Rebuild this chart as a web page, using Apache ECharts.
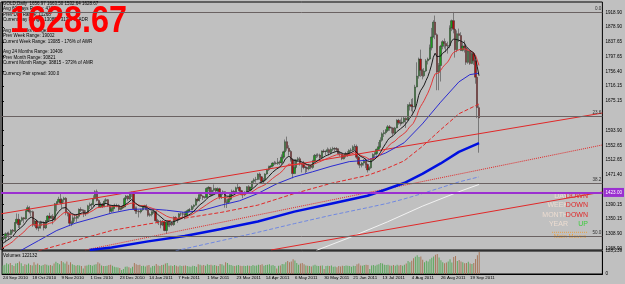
<!DOCTYPE html>
<html>
<head>
<meta charset="utf-8">
<script src="https://cdn.jsdelivr.net/npm/echarts@6/dist/echarts.min.js"></script>
<style>
  html, body { margin: 0; padding: 0; background: #c0c0c0; }
  #chart { width: 625px; height: 284px; }
</style>
</head>
<body>
<div id="chart"></div>
<script>
// daily bars 24 Sep 2010 .. 26 Sep 2011, [open, close, low, high]
var ohlc = [
  // Sep 2010
  [1292,1296,1289,1301],[1296,1297,1291,1301],[1297,1309,1285,1313],[1309,1309,1303,1314],[1309,1307,1295,1315],
  // Oct
  [1307,1319,1305,1321],[1319,1316,1310,1322],[1316,1340,1314,1341],[1340,1349,1336,1365],[1349,1334,1325,1364],
  [1334,1346,1322,1349],[1346,1353,1342,1356],[1353,1350,1338,1355],[1350,1372,1348,1374],[1372,1381,1370,1387],
  [1381,1369,1365,1385],[1369,1370,1357,1375],[1370,1333,1328,1373],[1333,1344,1329,1347],[1344,1325,1320,1348],
  [1325,1325,1316,1330],[1325,1339,1323,1345],[1339,1340,1330,1343],[1340,1325,1318,1343],[1325,1345,1322,1347],
  [1345,1358,1340,1360],
  // Nov
  [1358,1352,1346,1367],[1352,1357,1350,1360],[1357,1347,1335,1363],[1347,1392,1345,1394],[1392,1397,1371,1399],
  [1397,1404,1395,1411],[1404,1394,1390,1424],[1394,1403,1380,1407],[1403,1407,1395,1411],[1407,1367,1360,1410],
  [1367,1365,1357,1371],[1365,1338,1330,1368],[1338,1339,1330,1345],[1339,1353,1336,1360],[1353,1352,1343,1361],
  [1352,1357,1342,1361],[1357,1376,1351,1379],[1376,1374,1369,1382],[1374,1374,1370,1377],[1374,1364,1355,1376],
  [1364,1366,1358,1374],[1366,1386,1363,1389],
  // Dec
  [1386,1389,1377,1395],[1389,1390,1380,1394],[1390,1406,1384,1415],[1406,1425,1404,1429],[1425,1401,1398,1431],
  [1401,1384,1380,1404],[1384,1391,1380,1396],[1391,1384,1380,1394],[1384,1399,1382,1404],[1399,1403,1391,1407],
  [1403,1386,1383,1405],[1386,1371,1364,1389],[1371,1378,1367,1384],[1378,1387,1370,1389],[1387,1387,1381,1392],
  [1387,1387,1382,1392],[1387,1376,1371,1390],[1376,1380,1374,1382],[1380,1383,1377,1388],[1383,1406,1382,1410],
  [1406,1413,1402,1416],[1413,1405,1400,1415],[1405,1421,1403,1424],
  // Jan 2011
  [1421,1422,1410,1425],[1422,1378,1375,1424],[1378,1372,1364,1384],[1372,1371,1364,1384],[1371,1369,1354,1375],
  [1369,1375,1365,1378],[1375,1385,1372,1387],[1385,1386,1380,1389],[1386,1375,1373,1390],[1375,1360,1356,1378],
  [1360,1362,1356,1367],[1362,1369,1357,1372],[1369,1370,1364,1376],[1370,1345,1343,1372],[1345,1342,1337,1350],
  [1342,1343,1333,1347],[1343,1333,1324,1347],[1333,1342,1330,1347],[1342,1318,1316,1344],[1318,1341,1309,1344],
  [1341,1333,1328,1345],
  // Feb
  [1333,1339,1327,1343],[1339,1334,1330,1343],[1334,1354,1331,1357],[1354,1349,1343,1357],[1349,1348,1339,1352],
  [1348,1364,1346,1366],[1364,1364,1358,1368],[1364,1363,1355,1369],[1363,1360,1349,1371],[1360,1371,1357,1374],
  [1371,1375,1367,1377],[1375,1375,1370,1380],[1375,1384,1374,1388],[1384,1388,1378,1390],[1388,1404,1387,1408],
  [1404,1401,1396,1409],[1401,1417,1398,1418],[1417,1413,1405,1419],[1413,1409,1402,1415],[1409,1410,1406,1413],
  // Mar
  [1410,1434,1408,1437],[1434,1437,1426,1440],[1437,1416,1413,1438],[1416,1429,1413,1437],[1429,1434,1425,1445],
  [1434,1427,1421,1436],[1427,1433,1425,1437],[1433,1411,1404,1436],[1411,1420,1405,1424],[1420,1425,1416,1429],
  [1425,1395,1381,1426],[1395,1396,1380,1404],[1396,1404,1393,1408],[1404,1418,1401,1419],[1418,1426,1415,1431],
  [1426,1424,1420,1430],[1424,1436,1421,1439],[1436,1437,1432,1447],[1437,1428,1423,1440],[1428,1417,1415,1430],
  [1417,1417,1407,1421],[1417,1424,1413,1426],[1424,1439,1421,1440],
  // Apr
  [1439,1429,1420,1443],[1429,1437,1426,1439],[1437,1454,1433,1456],[1454,1458,1449,1462],[1458,1459,1450,1466],
  [1459,1474,1457,1476],[1474,1466,1458,1478],[1466,1453,1448,1468],[1453,1457,1449,1463],[1457,1474,1454,1476],
  [1474,1486,1472,1488],[1486,1493,1482,1497],[1493,1496,1488,1498],[1496,1504,1492,1506],[1504,1504,1499,1510],
  [1504,1503,1500,1508],[1503,1507,1499,1518],[1507,1505,1499,1511],[1505,1520,1500,1528],[1520,1535,1515,1538],
  [1535,1563,1533,1569],
  // May
  [1563,1545,1538,1577],[1545,1536,1525,1553],[1536,1513,1508,1540],[1513,1475,1462,1518],[1475,1492,1475,1515],
  [1492,1513,1487,1515],[1513,1516,1508,1521],[1516,1502,1497,1521],[1502,1500,1478,1505],[1500,1492,1487,1510],
  [1492,1492,1476,1496],[1492,1488,1479,1494],[1488,1496,1484,1499],[1496,1492,1487,1500],[1492,1510,1488,1513],
  [1510,1525,1505,1529],[1525,1526,1518,1530],[1526,1526,1520,1531],[1526,1519,1511,1530],[1519,1537,1516,1539],
  [1537,1536,1532,1542],[1536,1536,1526,1539],
  // Jun
  [1536,1541,1531,1547],[1541,1533,1525,1544],[1533,1542,1528,1547],[1542,1544,1537,1549],[1544,1544,1536,1548],
  [1544,1542,1535,1548],[1542,1530,1528,1545],[1530,1529,1522,1537],[1529,1516,1512,1532],[1516,1524,1514,1527],
  [1524,1529,1519,1535],[1529,1530,1521,1537],[1530,1539,1527,1542],[1539,1540,1534,1545],[1540,1549,1537,1553],
  [1549,1550,1540,1556],[1550,1520,1515,1555],[1520,1501,1497,1524],[1501,1498,1490,1506],[1498,1504,1492,1507],
  [1504,1512,1497,1515],[1512,1500,1490,1517],
  // Jul
  [1500,1485,1478,1503],[1485,1491,1484,1495],[1491,1514,1488,1517],[1514,1528,1512,1531],[1528,1530,1521,1536],
  [1530,1542,1525,1544],[1542,1549,1540,1562],[1549,1567,1546,1575],[1567,1585,1563,1589],[1585,1588,1576,1595],
  [1588,1594,1583,1598],[1594,1604,1590,1609],[1604,1601,1593,1609],[1601,1601,1586,1604],[1601,1586,1580,1603],
  [1586,1601,1586,1604],[1601,1622,1600,1625],[1622,1615,1610,1626],[1615,1614,1607,1624],[1614,1617,1611,1630],
  [1617,1628,1613,1632],
  // Aug
  [1628,1623,1601,1630],[1623,1662,1621,1667],[1662,1665,1649,1672],[1665,1660,1647,1681],[1660,1659,1643,1683],
  [1659,1714,1658,1720],[1714,1744,1713,1782],[1744,1791,1737,1795],[1791,1760,1742,1817],[1760,1745,1735,1764],
  [1745,1758,1741,1766],[1758,1786,1755,1791],[1786,1791,1776,1795],[1791,1822,1788,1831],[1822,1852,1815,1877],
  [1852,1893,1850,1898],[1893,1858,1846,1911],[1858,1755,1705,1862],[1755,1773,1705,1780],[1773,1826,1729,1830],
  [1826,1839,1818,1843],[1839,1834,1820,1848],[1834,1827,1810,1841],
  // Sep
  [1827,1828,1806,1839],[1828,1877,1821,1884],[1877,1897,1868,1900],[1897,1873,1862,1921],[1873,1817,1795,1875],
  [1817,1861,1810,1870],[1861,1856,1838,1875],[1856,1815,1813,1865],[1815,1827,1812,1837],[1827,1822,1809,1842],
  [1822,1782,1775,1830],[1782,1813,1778,1820],[1813,1779,1775,1816],[1779,1806,1777,1813],[1806,1786,1775,1810],
  [1786,1741,1723,1787],[1741,1656.97,1628,1741],[1656.97,1628.67,1532.64,1663.50]
];

// closes before the first visible bar (30 Aug .. 23 Sep 2010), to start the fast averages
var priorCloses = [1238,1248,1250,1249,1247,1250,1256,1257,1242,1246,1246,1268,1269,1275,1276,1280,1290,1292,1293];

// tick volume, thousands
var volK = [
  48,52,60,55,62,
  50,45,58,62,70,60,44,55,52,58,50,48,66,52,58,50,46,50,55,52,48,
  50,46,58,68,62,55,72,66,58,70,52,66,55,50,46,50,48,44,30,46,48,52,
  50,46,52,55,66,58,48,45,44,46,50,52,46,40,38,36,34,22,28,40,42,38,32,
  40,62,55,50,52,44,46,42,48,50,36,44,46,56,48,44,50,52,58,62,46,
  48,44,50,46,42,48,44,46,48,44,42,40,46,44,40,55,52,48,50,46,
  55,50,52,48,50,46,44,56,54,48,66,62,52,50,46,44,48,50,46,44,46,44,48,
  46,44,50,46,48,52,50,54,46,50,52,55,48,50,44,30,46,48,56,55,66,
  72,66,70,82,75,62,52,58,62,55,48,46,44,42,48,52,46,44,46,48,28,44,
  46,44,48,40,42,38,44,42,46,44,48,46,44,40,46,44,55,58,48,46,50,52,
  50,28,48,50,46,52,54,62,58,52,50,52,48,46,50,46,52,48,50,46,52,
  58,72,66,74,88,96,104,95,98,80,66,74,70,82,90,98,108,112,92,76,66,60,64,
  70,82,64,95,100,72,78,70,66,60,62,68,58,56,62,84,104,122.132
];
var volMax = 128239;

// slow moving averages, [bar, price]
var ma50 = [[10,1262],[20,1290],[30,1318],[40,1338],[50,1352],[60,1366],[70,1376],[80,1378],[90,1374],[100,1368],
  [110,1374],[120,1388],[130,1400],[140,1420],[150,1446],[160,1466],[170,1480],[180,1495],[190,1508],[200,1512],
  [210,1532],[220,1560],[230,1612],[240,1672],[250,1728],[256,1748],[261,1752]];
var ma100 = [[20,1262],[40,1290],[60,1318],[80,1336],[100,1352],[120,1368],[140,1388],[160,1420],[180,1448],
  [200,1470],[210,1488],[220,1510],[230,1550],[240,1596],[250,1640],[261,1667]];
var ma200 = [[48,1264],[60,1271],[80,1288],[100,1303],[120,1322],[140,1343],[160,1370],[180,1392],[200,1414],
  [210,1431],[220,1449],[230,1474],[240,1503],[250,1535],[261,1559]];
var maSlowBlue = [[95,1262],[120,1290],[140,1313],[160,1337],[180,1360],[200,1381],[211,1393],[220,1405],
  [230,1420],[240,1436],[250,1452],[261,1466]];
var maWhite = [[172,1263],[190,1298],[211,1342],[230,1385],[250,1425],[261,1445]];

// drawn trendlines, [bar, price] end points
var upperLine = [[-0.5,1364],[328.5,1642]];
var lowerLine = [[147.2,1264.2],[328.5,1424.2]];
var dottedLine = [[45.6,1264.2],[328.5,1554]];

var fibLevels = [['0.0',1921.15],['23.6',1632.5],['38.2',1448.5],['50.0',1302.3]];
var purpleLevel = 1423.0;
var lastPrice = 1628.67;

var priceTicks = [1918.90,1878.90,1837.65,1797.65,1756.40,1716.15,1675.15,1593.90,1552.65,1512.65,
  1471.40,1390.15,1350.15,1308.90,1268.90];
var dateLabels = ['24 Sep 2010','18 Oct 2010','9 Nov 2010','1 Dec 2010','23 Dec 2010','14 Jan 2011',
  '7 Feb 2011','1 Mar 2011','23 Mar 2011','14 Apr 2011','6 May 2011','30 May 2011','21 Jun 2011',
  '13 Jul 2011','4 Aug 2011','26 Aug 2011','19 Sep 2011'];

var infoLines = [
  'GOLD,Daily  1656.97 1663.50 1532.64 1628.67',
  'Avg 60 Days Range: 4181',
  'Prev Day Range: 11268',
  'Current Day Range: 13085 - 313% of ADR',
  '',
  'Avg 26 Weeks Range: 7418',
  'Prev Week Range: 19002',
  'Current Week Range: 13085 - 176% of AWR',
  '',
  'Avg 24 Months Range: 10406',
  'Prev Month Range: 30821',
  'Current Month Range: 38815 - 373% of AMR',
  '',
  'Currency Pair spread: 300.0'
];
var trendRows = [['DAY','DOWN'],['WEEK','DOWN'],['MONTH','DOWN'],['YEAR','UP']];

var totalSlots = 329;
var cats = [];
for (var i = 0; i < totalSlots; i++) cats.push(i);

function ema(period) {
  var k = 2 / (period + 1);
  var all = priorCloses.concat(ohlc.map(function (d) { return d[1]; }));
  var e = all[0], out = [];
  all.forEach(function (c, j) {
    e = j === 0 ? c : c * k + e * (1 - k);
    if (j >= priorCloses.length) out.push([j - priorCloses.length, +e.toFixed(2)]);
  });
  return out;
}

function line(data, color, type, width) {
  return {
    type: 'line', xAxisIndex: 2, yAxisIndex: 0, data: data, symbol: 'none', silent: true,
    lineStyle: { color: color, type: type, width: width }, z: 3
  };
}

var font = 'Liberation Sans';
var fibMarks = fibLevels.map(function (f) {
  return {
    yAxis: f[1],
    lineStyle: { color: '#6a6262', width: 1, type: 'solid' },
    label: { show: true, position: 'insideEndTop', formatter: f[0], fontSize: 4.6, color: '#333', distance: 1, fontFamily: font }
  };
});
fibMarks.push({
  yAxis: purpleLevel,
  lineStyle: { color: '#9b30d0', width: 2, type: 'solid' },
  label: { show: true, position: 'end', formatter: purpleLevel.toFixed(2), fontSize: 4.6, color: '#fff',
    backgroundColor: '#9b30d0', padding: [2, 2], distance: 1, fontFamily: font }
});
fibMarks.push({
  yAxis: lastPrice,
  lineStyle: { opacity: 0 },
  label: { show: true, position: 'end', formatter: lastPrice.toFixed(2), fontSize: 4.6, color: '#fff',
    backgroundColor: '#000', padding: [2, 2], distance: 1, fontFamily: font }
});

var graphics = [
  { type: 'text', left: 3, top: 0.8, silent: true,
    style: { text: infoLines.join('\n'), fontSize: 4.5, lineHeight: 5.4, fill: '#000', fontFamily: font } },
  { type: 'text', x: 10, y: 4, scaleX: 0.9, silent: true,
    style: { text: lastPrice.toFixed(2), fontSize: 36, fontWeight: 'bold', fill: '#ff0000', fontFamily: font } },
  { type: 'text', left: 3, top: 253, silent: true,
    style: { text: 'Volumes ' + Math.round(volK[volK.length - 1] * 1000), fontSize: 4.6, fill: '#000', fontFamily: font } },
  { type: 'line', silent: true, shape: { x1: 552, y1: 232.3, x2: 588, y2: 232.3 },
    style: { stroke: '#e8a040', lineWidth: 1, lineDash: [1, 1] } },
  { type: 'text', x: 570, y: 236.7, silent: true,
    style: { text: 'Main Moves', fontSize: 6, fill: '#e8a040', align: 'center', verticalAlign: 'middle', fontFamily: font } }
];
trendRows.forEach(function (r, k) {
  var y = 195.7 + k * 9.6;
  graphics.push({ type: 'text', x: 568, y: y, silent: true,
    style: { text: r[0], fontSize: 7, fill: '#ecdcd0', align: 'right', verticalAlign: 'middle', fontFamily: font } });
  graphics.push({ type: 'text', x: 588, y: y, silent: true,
    style: { text: r[1], fontSize: 7, fill: r[1] === 'UP' ? '#3ccc3c' : '#e02828', align: 'right', verticalAlign: 'middle', fontFamily: font } });
});

var chart = echarts.init(document.getElementById('chart'), null, { renderer: 'canvas' });
chart.setOption({
  animation: false,
  backgroundColor: '#c0c0c0',
  textStyle: { fontFamily: font },
  grid: [
    { left: 1, right: 18, top: 2, height: 248, show: true, borderColor: '#000', borderWidth: 1, backgroundColor: 'transparent' },
    { left: 1, right: 18, top: 251, bottom: 10, show: true, borderColor: '#000', borderWidth: 1, backgroundColor: 'transparent' }
  ],
  xAxis: [
    { type: 'category', gridIndex: 0, data: cats, boundaryGap: true, show: false },
    { type: 'category', gridIndex: 1, data: cats, boundaryGap: true,
      axisLine: { lineStyle: { color: '#000' } },
      axisTick: { length: 3, lineStyle: { color: '#000' },
        interval: function (idx) { return idx % 16 === 0 && idx / 16 < dateLabels.length; } },
      axisLabel: { fontSize: 4.4, color: '#000', align: 'left', margin: 2, fontFamily: font,
        interval: function (idx) { return idx % 16 === 0 && idx / 16 < dateLabels.length; },
        formatter: function (v, idx) { return dateLabels[idx / 16] || ''; } } },
    { type: 'value', gridIndex: 0, min: -0.5, max: totalSlots - 0.5, show: false }
  ],
  yAxis: [
    { type: 'value', gridIndex: 0, position: 'right', min: 1264.2, max: 1948.4, scale: true,
      splitLine: { show: false },
      axisLine: { show: true, lineStyle: { color: '#000' } },
      axisTick: { show: true, length: 2, customValues: priceTicks, lineStyle: { color: '#000' } },
      axisLabel: { customValues: priceTicks, fontSize: 4.6, color: '#000', margin: 3, fontFamily: font,
        formatter: function (v) { return v.toFixed(2); } } },
    { type: 'value', gridIndex: 1, position: 'right', min: 0, max: volMax,
      splitLine: { show: false },
      axisLine: { show: true, lineStyle: { color: '#000' } },
      axisTick: { show: false },
      axisLabel: { customValues: [0, volMax], fontSize: 4.6, color: '#000', margin: 3, fontFamily: font } }
  ],
  series: [
    { type: 'candlestick', xAxisIndex: 0, yAxisIndex: 0, data: ohlc, barWidth: 1.8, z: 2,
      itemStyle: { color: '#1c9a1c', color0: '#b01010', borderColor: '#303030', borderColor0: '#303030', borderWidth: 0.5 },
      markLine: { silent: true, symbol: ['none', 'none'], animation: false, data: fibMarks } },
    line(maWhite, '#f2f2f2', 'solid', 1),
    line(maSlowBlue, '#7088e0', 'dashed', 1),
    line(dottedLine, '#e02828', 'dotted', 1),
    line(lowerLine, '#e02828', 'solid', 1),
    line(upperLine, '#e02828', 'solid', 1),
    line(ma200, '#0010e0', 'solid', 2.5),
    line(ma100, '#e02828', 'dashed', 1),
    line(ma50, '#2a2ad0', 'solid', 1),
    line(ema(20), '#e03838', 'solid', 1),
    line(ema(10), '#1a1a1a', 'solid', 1),
    { type: 'bar', xAxisIndex: 1, yAxisIndex: 1, barWidth: 1, silent: true,
      data: volK.map(function (v, j) {
        var up = ohlc[j][1] >= ohlc[j][0];
        return { value: Math.round(v * 1000), itemStyle: { color: up ? '#5ca85c' : '#a8785a' } };
      }) }
  ],
  graphic: graphics
});
</script>
</body>
</html>
